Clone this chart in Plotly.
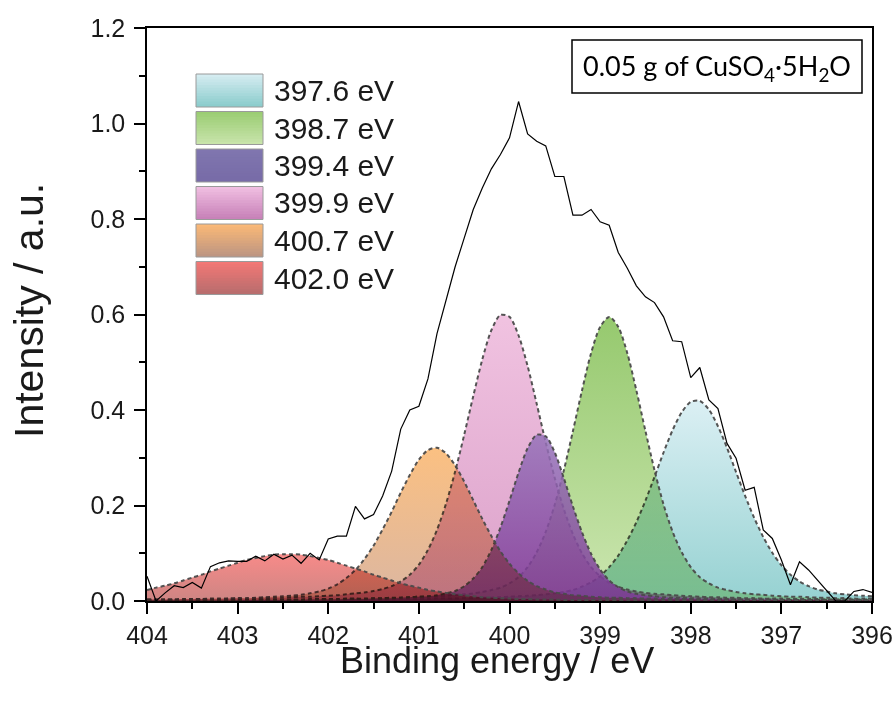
import plotly.graph_objects as go

# ---------------- data ----------------
energy = [round(404.0 - 0.1 * i, 1) for i in range(81)]  # binding energy, 404.0 -> 396.0 eV

intensity = [
    0.052, 0.000, 0.017, 0.032, 0.028, 0.039, 0.027, 0.072, 0.080, 0.084,
    0.083, 0.083, 0.094, 0.084, 0.098, 0.088, 0.096, 0.079, 0.100, 0.086,
    0.130, 0.136, 0.136, 0.198, 0.172, 0.181, 0.220, 0.272, 0.360, 0.400,
    0.408, 0.465, 0.560, 0.630, 0.700, 0.760, 0.820, 0.865, 0.905, 0.935,
    0.970, 1.046, 0.978, 0.963, 0.953, 0.889, 0.889, 0.808, 0.808, 0.820,
    0.794, 0.787, 0.730, 0.697, 0.660, 0.637, 0.625, 0.595, 0.545, 0.543,
    0.468, 0.489, 0.421, 0.403, 0.330, 0.299, 0.232, 0.238, 0.149, 0.131,
    0.086, 0.034, 0.082, 0.065, 0.044, 0.023, 0.000, 0.000, 0.020, 0.024,
    0.018,
]

fit_3976 = [
    .001, .001, .001, .001, .001, .001, .001, .001, .001, .001,
    .002, .002, .002, .002, .002, .002, .002, .002, .002, .002,
    .002, .002, .003, .003, .003, .003, .003, .003, .004, .004,
    .004, .004, .005, .005, .005, .006, .006, .007, .007, .008,
    .009, .010, .011, .012, .014, .016, .019, .023, .030, .039,
    .052, .071, .095, .127, .165, .210, .260, .311, .358, .395,
    .417, .419, .401, .366, .321, .270, .220, .174, .134, .101,
    .075, .055, .041, .031, .024, .020, .016, .014, .012, .011,
    .010,
]
fit_3987 = [
    .002, .002, .002, .002, .002, .002, .002, .002, .002, .002,
    .002, .002, .003, .003, .003, .003, .003, .003, .004, .004,
    .004, .004, .005, .005, .005, .006, .006, .007, .007, .008,
    .009, .009, .010, .011, .013, .014, .016, .019, .023, .028,
    .037, .050, .071, .102, .145, .202, .274, .356, .441, .519,
    .574, .595, .574, .519, .441, .356, .274, .202, .145, .102,
    .071, .050, .037, .028, .023, .019, .016, .014, .013, .011,
    .010, .009, .009, .008, .007, .007, .006, .006, .005, .005,
    .005,
]
fit_3994 = [
    .001, .001, .001, .001, .001, .001, .001, .001, .001, .001,
    .001, .002, .002, .002, .002, .002, .002, .002, .003, .003,
    .003, .003, .004, .004, .004, .005, .005, .006, .007, .008,
    .009, .010, .012, .016, .021, .031, .047, .071, .107, .154,
    .210, .269, .320, .348, .345, .311, .257, .198, .144, .099,
    .066, .043, .029, .020, .015, .012, .010, .008, .007, .007,
    .006, .005, .005, .004, .004, .003, .003, .003, .003, .003,
    .002, .002, .002, .002, .002, .002, .002, .001, .001, .001,
    .001,
]
fit_3999 = [
    .003, .003, .003, .003, .004, .004, .004, .004, .004, .005,
    .005, .005, .006, .006, .007, .007, .008, .009, .009, .010,
    .011, .012, .014, .016, .018, .021, .025, .031, .041, .055,
    .076, .107, .149, .204, .271, .348, .429, .506, .567, .599,
    .595, .556, .492, .413, .332, .257, .192, .140, .100, .071,
    .052, .038, .030, .024, .020, .017, .015, .014, .012, .011,
    .010, .009, .008, .008, .007, .007, .006, .006, .005, .005,
    .005, .004, .004, .004, .004, .003, .003, .003, .003, .003,
    .003,
]
fit_4007 = [
    .003, .003, .003, .003, .004, .004, .004, .005, .005, .005,
    .006, .006, .007, .008, .009, .010, .011, .013, .016, .020,
    .026, .035, .048, .065, .088, .116, .150, .187, .227, .264,
    .296, .316, .321, .309, .284, .250, .211, .172, .136, .104,
    .078, .058, .042, .031, .024, .018, .015, .012, .011, .009,
    .008, .007, .007, .006, .006, .005, .005, .004, .004, .004,
    .004, .003, .003, .003, .003, .003, .002, .002, .002, .002,
    .002, .002, .002, .002, .002, .002, .001, .001, .001, .001,
    .001,
]
fit_4020 = [
    .023, .028, .032, .037, .043, .049, .055, .062, .068, .074,
    .080, .086, .090, .094, .097, .098, .098, .097, .094, .090,
    .086, .080, .074, .068, .062, .055, .049, .043, .037, .032,
    .028, .023, .020, .017, .014, .012, .010, .008, .007, .006,
    .005, .004, .004, .003, .003, .003, .002, .002, .002, .002,
    .002, .002, .002, .001, .001, .001, .001, .001, .001, .001,
    .001, .001, .001, .001, .001, .001, .001, .001, .001, .001,
    .001, .001, .001, .001, .001, .001, .001, .001, .001, .001,
    .001,
]

legend_labels = ["397.6 eV", "398.7 eV", "399.4 eV", "399.9 eV", "400.7 eV", "402.0 eV"]
x_ticks = [404, 403, 402, 401, 400, 399, 398, 397, 396]
y_ticks = [0.0, 0.2, 0.4, 0.6, 0.8, 1.0, 1.2]
box_text = "0.05 g of CuSO<sub>4</sub>·5H<sub>2</sub>O"

# ---------------- styles ----------------
# (bottom colour, top colour, opacity) of each component's vertical gradient in the plot
grad = {
    "397.6 eV": ((135, 203, 203), (214, 237, 242), 0.88),
    "398.7 eV": ((196, 226, 165), (135, 193, 90), 0.88),
    "399.4 eV": ((125, 55, 150), (150, 115, 185), 0.85),
    "399.9 eV": ((214, 148, 194), (238, 186, 220), 0.88),
    "400.7 eV": ((214, 172, 148), (250, 183, 112), 0.88),
    "402.0 eV": ((198, 116, 114), (246, 122, 120), 0.88),
}
# (bottom colour, top colour) of the legend swatches
swatch = {
    "397.6 eV": ((140, 205, 205), (213, 236, 241)),
    "398.7 eV": ((200, 228, 170), (155, 205, 115)),
    "399.4 eV": ((120, 108, 168), (128, 118, 175)),
    "399.9 eV": ((200, 130, 185), (240, 190, 225)),
    "400.7 eV": ((190, 150, 130), (250, 185, 120)),
    "402.0 eV": ((185, 110, 110), (242, 120, 118)),
}
comp_series = {
    "397.6 eV": fit_3976,
    "398.7 eV": fit_3987,
    "399.4 eV": fit_3994,
    "399.9 eV": fit_3999,
    "400.7 eV": fit_4007,
    "402.0 eV": fit_4020,
}
draw_order = ["397.6 eV", "398.7 eV", "399.9 eV", "399.4 eV", "400.7 eV", "402.0 eV"]


def rgba(c, a):
    return "rgba(%d,%d,%d,%.2f)" % (c[0], c[1], c[2], a)


fig = go.Figure()
for lab in draw_order:
    lo, hi, op = grad[lab]
    fig.add_trace(go.Scatter(
        x=energy, y=comp_series[lab], mode="lines", name=lab,
        line=dict(shape="spline", smoothing=0.8, color="rgba(75,75,75,0.95)", width=2, dash="4px,3px"),
        fill="tozeroy",
        fillgradient=dict(type="vertical",
                          colorscale=[[0, rgba(lo, op)], [1, rgba(hi, op)]]),
        showlegend=False, hoverinfo="skip",
    ))

fig.add_trace(go.Scatter(
    x=energy, y=intensity, mode="lines", name="data",
    line=dict(color="black", width=1.2), showlegend=False,
))

# plot-area geometry in pixels (for placing decorations in paper coords)
L, R, T, B = 147, 22, 28, 104
W, H = 894, 705
pw, ph = W - L - R, H - T - B


def px(xp):
    return (xp - L) / pw


def py(yp):
    return (H - B - yp) / ph


shapes = []
annotations = []

# custom legend with gradient swatches
row_top0, row_pitch, sw_h = 74, 37.5, 33
sw_x0, sw_x1 = 196, 263
nstrip = 12
for i, lab in enumerate(legend_labels):
    top = row_top0 + i * row_pitch
    lo, hi = swatch[lab]
    for k in range(nstrip):
        t = k / (nstrip - 1)
        c = tuple(hi[j] + (lo[j] - hi[j]) * t for j in range(3))
        y0 = top + k * sw_h / nstrip
        y1 = min(top + sw_h, top + (k + 1) * sw_h / nstrip + 0.8)
        shapes.append(dict(type="rect", xref="paper", yref="paper",
                           x0=px(sw_x0), x1=px(sw_x1), y0=py(y1), y1=py(y0),
                           fillcolor=rgba(c, 1.0), line=dict(width=0), layer="above"))
    shapes.append(dict(type="rect", xref="paper", yref="paper",
                       x0=px(sw_x0), x1=px(sw_x1), y0=py(top + sw_h), y1=py(top),
                       fillcolor="rgba(0,0,0,0)", line=dict(color="#9a9a9a", width=1), layer="above"))
    annotations.append(dict(xref="paper", yref="paper", x=px(272), y=py(top + sw_h / 2),
                            xanchor="left", yanchor="middle", text=lab, showarrow=False,
                            font=dict(family="Liberation Sans, Arial", size=30, color="#1a1a1a")))

# sample box
shapes.append(dict(type="rect", xref="paper", yref="paper",
                   x0=px(572), x1=px(862), y0=py(93), y1=py(40),
                   fillcolor="white", line=dict(color="black", width=1.5), layer="above"))
annotations.append(dict(xref="paper", yref="paper", x=px(717), y=py(67),
                        xanchor="center", yanchor="middle", text=box_text, showarrow=False,
                        font=dict(family="Lato, Open Sans", size=27, color="black")))

# axis titles
annotations.append(dict(xref="paper", yref="paper", x=px(497), y=py(660),
                        xanchor="center", yanchor="middle", text="Binding energy / eV", showarrow=False,
                        font=dict(family="Liberation Sans, Arial", size=36, color="#1a1a1a")))
annotations.append(dict(xref="paper", yref="paper", x=px(29), y=py(311),
                        xanchor="center", yanchor="middle", text="Intensity / a.u.", showarrow=False,
                        textangle=-90,
                        font=dict(family="Liberation Sans, Arial", size=41, color="#1a1a1a")))

axis_font = dict(family="Liberation Sans, Arial", size=25, color="#1a1a1a")
fig.update_xaxes(
    range=[404, 396], tickmode="array", tickvals=x_ticks, ticktext=[str(v) for v in x_ticks],
    ticks="outside", ticklen=11, tickwidth=1.5, tickcolor="black",
    minor=dict(dtick=0.5, ticks="outside", ticklen=6, tickwidth=1.5, tickcolor="black"),
    showline=True, linecolor="black", linewidth=1.5, mirror=True,
    showgrid=False, zeroline=False, tickfont=axis_font,
)
fig.update_yaxes(
    range=[0, 1.2], tickmode="array", tickvals=y_ticks, ticktext=["%.1f" % v for v in y_ticks],
    ticks="outside", ticklen=11, tickwidth=1.5, tickcolor="black",
    minor=dict(dtick=0.1, ticks="outside", ticklen=6, tickwidth=1.5, tickcolor="black"),
    showline=True, linecolor="black", linewidth=1.5, mirror=True,
    showgrid=False, zeroline=False, tickfont=axis_font, ticklabelstandoff=4,
)
fig.update_layout(
    width=W, height=H,
    margin=dict(l=L, r=R, t=T, b=B, autoexpand=False),
    paper_bgcolor="white", plot_bgcolor="white",
    showlegend=False, shapes=shapes, annotations=annotations,
)
fig.write_html(
    "out.html",
    config={"displayModeBar": False},
    post_script=(
        "document.body.style.margin='0';document.body.style.overflow='hidden';"
        "var st=document.createElement('style');"
        "st.textContent='.scatterlayer .js-fill{mix-blend-mode:multiply;}"
        ".scatterlayer .trace:nth-child(4) .js-fill{mix-blend-mode:normal;}';"
        "document.head.appendChild(st);"
    ),
)
